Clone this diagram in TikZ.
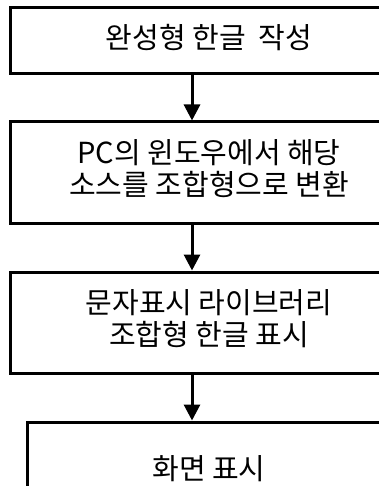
\documentclass[tikz,border=0pt]{standalone}
\usepackage{fontspec}
\newfontfamily\krfont{Noto Sans CJK KR}
\usetikzlibrary{arrows.meta}

\begin{document}
\begin{tikzpicture}[x=1pt, y=-1pt,
	box/.style={draw, line width=3pt, minimum width=398pt, inner sep=0pt,
		text depth=9pt, align=center, font=\krfont\fontsize{29}{32}\selectfont},
	flow/.style={line width=3pt, -{Triangle[width=16pt,length=16pt]}}]

	\useasboundingbox (0,0) rectangle (379,486);
	\clip (0,0) rectangle (379,486);

	%boxes
	\node[box, minimum height=66pt] (b1) at (209,41) {완성형 한글\ \ 작성};
	\node[box, minimum height=101pt] (b2) at (209,172.5)
		{PC의 윈도우에서 해당\\소스를 조합형으로 변환};
	\node[box, minimum height=101pt] (b3) at (209,322.5)
		{문자표시 라이브러리\\조합형 한글 표시};
	\node[box, minimum height=101pt, minimum width=364pt] (b4) at (209,472.5) {화면 표시};

	%arrows
	\coordinate (spine) at (192,0);
	\foreach \a/\b in {b1/b2, b2/b3, b3/b4}
		\draw[flow] (\a.south -| spine) -- (\b.north -| spine);
\end{tikzpicture}
\end{document}
